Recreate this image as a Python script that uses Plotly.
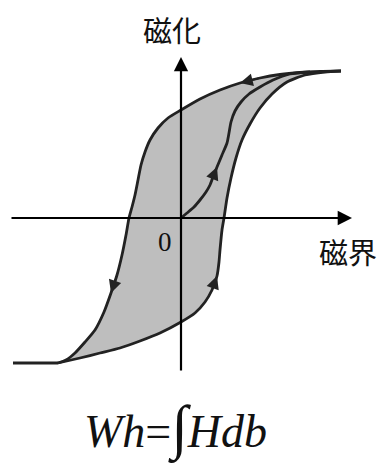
import plotly.graph_objects as go

# Hysteresis loop, coordinates in field (H) and magnetisation (M) units
# Descending branch (from positive saturation to negative saturation)
desc_H = [1.60, 1.39, 1.19, 0.99, 0.79, 0.59, 0.39, 0.19, 0.00, -0.13, -0.23, -0.31,
          -0.36, -0.40, -0.43, -0.46, -0.49, -0.52, -0.55, -0.59, -0.64, -0.70,
          -0.77, -0.86, -0.96, -1.06, -1.15, -1.23]
desc_M = [1.47, 1.465, 1.455, 1.435, 1.40, 1.35, 1.28, 1.19, 1.08, 1.00, 0.90, 0.78,
          0.66, 0.53, 0.38, 0.23, 0.11, 0.00, -0.17, -0.37, -0.57, -0.75,
          -0.94, -1.12, -1.24, -1.35, -1.42, -1.45]
# Ascending branch (from negative saturation back to positive saturation)
asc_H = [-1.23, -1.01, -0.81, -0.61, -0.41, -0.21, 0.00, 0.14, 0.24, 0.31, 0.36,
         0.38, 0.39, 0.41, 0.43, 0.46, 0.50, 0.55, 0.61, 0.69, 0.79, 0.91, 1.06,
         1.24, 1.44, 1.60]
asc_M = [-1.45, -1.40, -1.35, -1.30, -1.23, -1.15, -1.04, -0.95, -0.84, -0.72,
         -0.58, -0.44, -0.32, -0.12, 0.00, 0.20, 0.40, 0.60, 0.78, 0.94, 1.10,
         1.24, 1.36, 1.43, 1.46, 1.47]
# Saturation tail on the negative side
tail_H = [-1.23, -1.68]
tail_M = [-1.45, -1.45]
# Initial magnetisation curve from the origin
init_H = [0.00, 0.06, 0.13, 0.19, 0.25, 0.29, 0.32, 0.36, 0.41, 0.46, 0.48, 0.50,
          0.54, 0.60, 0.68, 0.79, 0.92, 1.09, 1.29]
init_M = [0.00, 0.05, 0.11, 0.18, 0.26, 0.33, 0.41, 0.51, 0.63, 0.75, 0.85, 0.96,
          1.07, 1.16, 1.24, 1.31, 1.38, 1.44, 1.46]

# Axis extents
x_axis_H = [-1.71, 1.71]
y_axis_M = [-1.54, 1.61]

# Indices along each curve where a direction arrow sits
desc_arrow_top = 5
desc_arrow_left = 21
asc_arrow_right = 10
init_arrow = 7

LINE = "#222222"
FILL = "#bebebe"

fig = go.Figure()

# Shaded loop area
loop_H = desc_H + asc_H[1:]
loop_M = desc_M + asc_M[1:]
fig.add_trace(go.Scatter(x=loop_H, y=loop_M, mode="lines", fill="toself",
                         fillcolor=FILL, line=dict(color="rgba(0,0,0,0)", width=0),
                         hoverinfo="skip"))

# Axes drawn as arrows
fig.add_annotation(x=x_axis_H[1], y=0, ax=x_axis_H[0], ay=0, xref="x", yref="y",
                   axref="x", ayref="y", showarrow=True, arrowhead=2, arrowsize=1.3,
                   arrowwidth=2.2, arrowcolor="#000000", text="")
fig.add_annotation(x=0, y=y_axis_M[1], ax=0, ay=y_axis_M[0], xref="x", yref="y",
                   axref="x", ayref="y", showarrow=True, arrowhead=2, arrowsize=1.3,
                   arrowwidth=2.2, arrowcolor="#000000", text="")

# Loop outline and initial curve
for hx, my in [(desc_H, desc_M), (asc_H, asc_M), (tail_H, tail_M), (init_H, init_M)]:
    fig.add_trace(go.Scatter(x=hx, y=my, mode="lines",
                             line=dict(color=LINE, width=2.8, shape="spline", smoothing=0.6),
                             hoverinfo="skip"))

# Direction arrows on the curves
def curve_arrow(hx, my, i):
    fig.add_annotation(x=hx[i], y=my[i], ax=hx[i - 1], ay=my[i - 1], xref="x", yref="y",
                       axref="x", ayref="y", showarrow=True, arrowhead=2, arrowsize=1.6,
                       arrowwidth=1.6, arrowcolor=LINE, text="", standoff=0)

curve_arrow(desc_H, desc_M, desc_arrow_top)
curve_arrow(desc_H, desc_M, desc_arrow_left)
curve_arrow(asc_H, asc_M, asc_arrow_right)
curve_arrow(init_H, init_M, init_arrow)

CJK = "Noto Sans CJK JP"
SERIF = "Liberation Serif"

# Axis labels
fig.add_annotation(x=-0.09, y=1.89, xref="x", yref="y", text="磁化", showarrow=False,
                   font=dict(family=CJK, size=29, color="#111111"))
fig.add_annotation(x=1.67, y=-0.33, xref="x", yref="y", text="磁界", showarrow=False,
                   font=dict(family=CJK, size=29, color="#111111"))
fig.add_annotation(x=-0.16, y=-0.24, xref="x", yref="y", text="0", showarrow=False,
                   font=dict(family=SERIF, size=27, color="#111111"))

# Hysteresis loss formula
fig.add_annotation(x=-0.06, y=-2.11, xref="x", yref="y",
                   text="<i>Wh</i>=<span style='font-size:60px'>∫</span><i>Hdb</i>",
                   showarrow=False, font=dict(family=SERIF, size=46, color="#111111"))

fig.update_layout(
    width=387, height=465,
    margin=dict(l=0, r=0, t=0, b=0),
    paper_bgcolor="white", plot_bgcolor="white",
    showlegend=False,
    xaxis=dict(range=[-1.81, 2.06], visible=False, fixedrange=True),
    yaxis=dict(range=[-2.47, 2.18], visible=False, fixedrange=True),
)

fig.write_html("out.html")
